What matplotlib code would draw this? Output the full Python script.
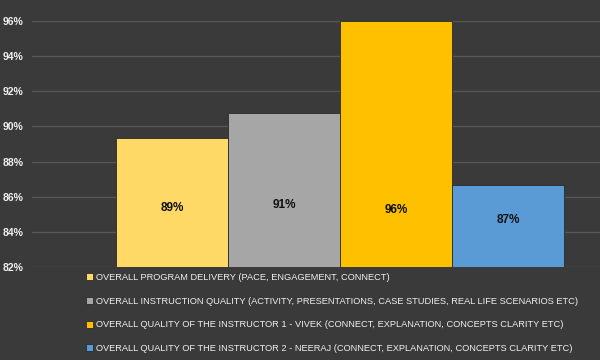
import matplotlib
matplotlib.use('Agg')
import matplotlib.pyplot as plt
from matplotlib.ticker import FuncFormatter

plt.rcParams['font.family'] = ['Liberation Sans', 'DejaVu Sans']

labels = ['OVERALL PROGRAM DELIVERY (PACE, ENGAGEMENT, CONNECT)',
          'OVERALL INSTRUCTION QUALITY (ACTIVITY, PRESENTATIONS, CASE STUDIES, REAL LIFE SCENARIOS ETC)',
          'OVERALL QUALITY OF THE INSTRUCTOR 1 - VIVEK (CONNECT, EXPLANATION, CONCEPTS CLARITY ETC)',
          'OVERALL QUALITY OF THE INSTRUCTOR 2 - NEERAJ (CONNECT, EXPLANATION, CONCEPTS CLARITY ETC)']
values = [89.35, 90.75, 96.0, 86.65]
bar_text = ['89%', '91%', '96%', '87%']
colors = ['#ffd966', '#a6a6a6', '#ffc000', '#5b9bd5']
yticks = [82, 84, 86, 88, 90, 92, 94, 96]

# where the value labels sit inside the bars (as in the original slide)
label_y = [85.35, 85.5, 85.25, 84.7]

bg = '#3a3a3a'
fig = plt.figure(figsize=(6, 3.6), dpi=100, facecolor=bg)
ax = fig.add_axes([32/600, 93/360, 568/600, 246/360], facecolor=bg)

x = range(len(values))
bars = ax.bar(x, [v - 82 for v in values], bottom=82, width=1.0, color=colors,
              edgecolor='#2a2a2a', linewidth=0.6, zorder=3)
for b, t, ly in zip(bars, bar_text, label_y):
    ax.text(b.get_x() + b.get_width()/2, ly, t, ha='center', va='center',
            fontsize=8.5, fontweight='bold', color='#111111', zorder=4)

ax.set_ylim(82, 96)
ax.set_xlim(-1.25, 3.82)
ax.set_yticks(yticks)
ax.yaxis.set_major_formatter(FuncFormatter(lambda v, p: '%d%%' % v))
ax.tick_params(axis='y', length=0, colors='#f0f0f0', labelsize=7.5, pad=6)
ax.set_xticks([])
for lbl in ax.get_yticklabels():
    lbl.set_fontweight('bold')
ax.grid(axis='y', color='#575757', linewidth=1, zorder=0)
for s in ax.spines.values():
    s.set_visible(False)

leg = fig.legend(bars, labels, loc='upper left', bbox_to_anchor=(86/600, 1 - 273/360),
                 frameon=False, fontsize=6.7, labelcolor='#f0f0f0', handlelength=0.75,
                 handleheight=0.75, handletextpad=0.35, labelspacing=1.58, borderpad=0,
                 borderaxespad=0)

fig.savefig('out.png', dpi=100, facecolor=bg)
